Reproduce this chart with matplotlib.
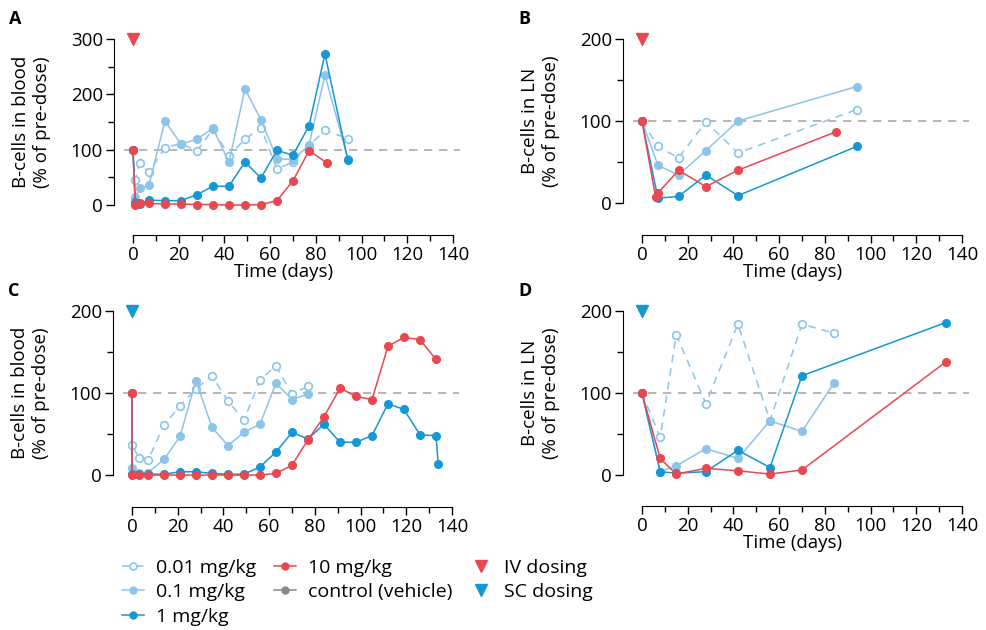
import matplotlib
matplotlib.use("Agg")
import matplotlib.pyplot as plt
from matplotlib.lines import Line2D
from matplotlib.ticker import FixedLocator

plt.rcParams["font.family"] = ["Open Sans", "DejaVu Sans"]
plt.rcParams["font.size"] = 13.5

RED = "#E8484F"
LIGHT = "#8DC4EA"
DARK = "#1597D3"
GREY = "#888888"

# Panel A - blood, IV dosing
a_days = [0, 1, 3, 7, 14, 21, 28, 35, 42, 49, 56, 63, 70, 77, 84, 94]
a_001 = [100, 46, 76, 59, 104, 111, 98, 137, 89, 119, 140, 65, 78, 107, 135, 120]
a_01 = [100, 15, 30, 36, 152, 110, 119, 139, 77, 210, 154, 84, 82, 108, 235, 84]
a_1 = [100, 5, 2, 9, 8, 8, 19, 34, 34, 78, 49, 99, 90, 143, 273, 81]
a_10_days = [0, 1, 3, 7, 14, 21, 28, 35, 42, 49, 56, 63, 70, 77, 85]
a_10 = [100, 1, 4, 3, 2, 2, 1, 1, 0, 0, 1, 8, 44, 98, 76]

# Panel B - lymph node, IV dosing
b_days = [0, 7, 16, 28, 42, 94]
b_001 = [100, 69, 55, 99, 61, 114]
b_01 = [100, 46, 34, 64, 100, 142]
b_1 = [100, 6, 8, 34, 9, 69]
b_10_days = [0, 6, 7, 16, 28, 42, 85]
b_10 = [100, 7, 12, 40, 20, 40, 87]

# Panel C - blood, SC dosing
c_days = [0, 0, 3, 7, 14, 21, 28, 35, 42, 49, 56, 63, 70, 77]
c_001 = [100, 37, 21, 18, 61, 84, 105, 121, 90, 67, 116, 133, 99, 108]
c_01 = [100, 9, 2, 3, 19, 47, 115, 58, 36, 52, 62, 112, 92, 99]
c_1_days = [0, 0, 3, 7, 14, 21, 28, 35, 42, 49, 56, 63, 70, 77, 84, 91, 98,
            105, 112, 119, 126, 133, 134]
c_1 = [100, 1, 1, 1, 1, 4, 4, 2, 1, 1, 10, 28, 52, 44, 62, 40, 40,
       48, 87, 80, 49, 48, 13]
c_10_days = [0, 0, 3, 7, 14, 21, 28, 35, 42, 49, 56, 63, 70, 77, 84, 91, 98,
             105, 112, 119, 126, 133]
c_10 = [100, 0, 0, 0, 0, 0, 0, 0, 0, 0, 0, 2, 12, 43, 71, 106, 96,
        92, 157, 168, 165, 141]

# Panel D - lymph node, SC dosing
d_days = [0, 8, 15, 28, 42, 56, 70, 84]
d_001 = [100, 46, 171, 87, 184, 66, 184, 173]
d_01 = [100, 4, 11, 32, 20, 66, 53, 112]
d_hi_days = [0, 8, 15, 28, 42, 56, 70, 133]
d_1 = [100, 4, 2, 4, 30, 9, 121, 186]
d_10 = [100, 20, 1, 8, 5, 1, 6, 138]

fig = plt.figure(figsize=(9.86, 6.30), dpi=100)

# spines sit on the axes edges; the limits leave a gap below 0 and left of day 0
panels = [
    # letter, rect, ylabel, ymax, ymin, dose colour, xlabel, data
    ("A", [0.1156, 0.6270, 0.3438, 0.3111], "B-cells in blood", 300, -54, RED, True,
     [(a_days, a_001), (a_days, a_01), (a_days, a_1), (a_10_days, a_10)]),
    ("B", [0.6318, 0.6270, 0.3438, 0.3111], "B-cells in LN", 200, -39, RED, True,
     [(b_days, b_001), (b_days, b_01), (b_days, b_1), (b_10_days, b_10)]),
    ("C", [0.1146, 0.1952, 0.3438, 0.3111], "B-cells in blood", 200, -39, DARK, False,
     [(c_days, c_001), (c_days, c_01), (c_1_days, c_1), (c_10_days, c_10)]),
    ("D", [0.6318, 0.1968, 0.3438, 0.3095], "B-cells in LN", 200, -38, DARK, True,
     [(d_days, d_001), (d_days, d_01), (d_hi_days, d_1), (d_hi_days, d_10)]),
]

styles = [
    dict(color=LIGHT, ls=(0, (5, 4)), marker="o", mfc="white", mec=LIGHT, mew=1.2),
    dict(color=LIGHT, ls="-", marker="o", mfc=LIGHT, mec=LIGHT),
    dict(color=DARK, ls="-", marker="o", mfc=DARK, mec=DARK),
    dict(color=RED, ls="-", marker="o", mfc=RED, mec=RED),
]

for letter, rect, ylab, ymax, ymin, dose_col, show_xlab, series in panels:
    ax = fig.add_axes(rect)
    ax.set_xlim(-8.3, 140)
    ax.set_ylim(ymin, ymax)
    ax.plot([-4, 143], [100, 100], color="#AAAAAA", lw=1.2, ls=(0, (5, 4)),
            clip_on=False, zorder=1)
    for (x, y), st in zip(series, styles):
        ax.plot(x, y, lw=1.1, ms=5.5, clip_on=False, zorder=3, **st)
    ax.plot([0], [ymax], marker="v", ms=9, color=dose_col, ls="none",
            clip_on=False, zorder=4)

    for s in ["top", "right"]:
        ax.spines[s].set_visible(False)
    ax.spines["left"].set_bounds(0, ymax)
    ax.spines["bottom"].set_bounds(0, 140)
    ax.yaxis.set_major_locator(FixedLocator(list(range(0, ymax + 1, 100))))
    ax.yaxis.set_minor_locator(FixedLocator(list(range(50, ymax, 100))))
    ax.xaxis.set_major_locator(FixedLocator(list(range(0, 141, 20))))
    ax.xaxis.set_minor_locator(FixedLocator(list(range(10, 140, 20))))
    ax.tick_params(which="major", length=6, width=1, labelsize=13.5, pad=2)
    ax.tick_params(which="minor", length=4, width=1)
    if show_xlab:
        ax.set_xlabel("Time (days)", fontsize=13.5, labelpad=-1)

    # y label centred on the 0..ymax range
    bb = ax.get_position()
    y0 = bb.y0 + bb.height * (0 - ymin) / (ymax - ymin)
    yc = (y0 + bb.y1) / 2
    fig.text(bb.x0 - 0.0835, yc, ylab + "\n(% of pre-dose)", rotation=90,
             ha="center", va="center", multialignment="center",
             fontsize=13.5, linespacing=1.2)
    fig.text(bb.x0 - 0.106, bb.y1 + 0.0325, letter,
             fontsize=13, fontweight="bold", va="center")

# Legend along the bottom
handles = [
    Line2D([], [], **styles[0], lw=1.1, ms=5),
    Line2D([], [], **styles[1], lw=1.1, ms=5),
    Line2D([], [], **styles[2], lw=1.1, ms=5),
    Line2D([], [], **styles[3], lw=1.1, ms=5),
    Line2D([], [], color=GREY, marker="o", mfc=GREY, mec=GREY, lw=1.1, ms=5),
    Line2D([], [], color=RED, marker="v", ls="none", ms=9),
    Line2D([], [], color=DARK, marker="v", ls="none", ms=9),
]
labels = ["0.01 mg/kg", "0.1 mg/kg", "1 mg/kg", "10 mg/kg",
          "control (vehicle)", "IV dosing", "SC dosing"]
fig.legend(handles, labels, ncol=3, loc="upper left",
           bbox_to_anchor=(0.114, 0.128), frameon=False, fontsize=14,
           handlelength=1.15, handletextpad=0.6, columnspacing=0.9,
           labelspacing=0.32, borderpad=0)

fig.savefig("out.png", dpi=100)
